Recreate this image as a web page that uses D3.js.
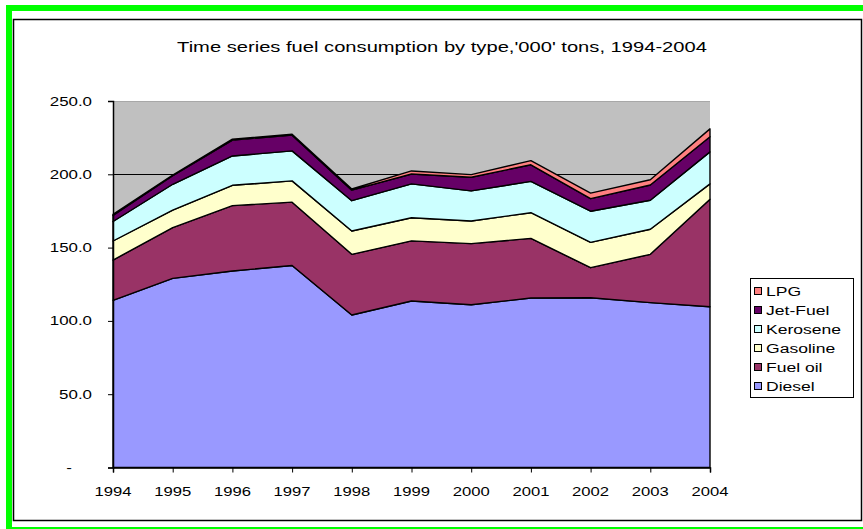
<!DOCTYPE html>
<html>
<head>
<meta charset="utf-8">
<script src="https://cdn.jsdelivr.net/npm/d3@7"></script>
<style>
  html, body { margin: 0; padding: 0; background: #ffffff; }
  svg { display: block; }
  text { font-family: "Liberation Sans", Arial, sans-serif; fill: #000; }
</style>
</head>
<body>
<svg id="chart" width="863" height="529"></svg>
<script>
// ---- data ----
const years = [1994, 1995, 1996, 1997, 1998, 1999, 2000, 2001, 2002, 2003, 2004];
const diesel   = [114, 129, 134, 137.8, 104, 113.6, 111, 115.6, 115.8, 112.5, 109.7];
const fuelOil  = [27.5, 34.6, 44.6, 43.2, 41.4, 41, 41.7, 40.7, 20.5, 32.9, 73.3];
const gasoline = [13, 12, 13.9, 14.5, 15.9, 15.8, 15.4, 17.5, 17.3, 17.1, 10.5];
const kerosene = [13.3, 17.6, 20, 20.5, 20.7, 23.1, 20.6, 21.4, 21.2, 19.8, 21.8];
const jetFuel  = [4.2, 5.8, 10.8, 10.7, 7.2, 6.7, 9.3, 11.3, 8.6, 10.4, 10.3];
const lpg      = [0.7, 0.5, 0.7, 0.6, 0.8, 2.1, 1.8, 2.8, 3.8, 3.6, 5.4];
const seriesNames = ["Diesel", "Fuel oil", "Gasoline", "Kerosene", "Jet-Fuel", "LPG"];
const seriesColors = ["#9999FF", "#993366", "#FFFFCC", "#CCFFFF", "#660066", "#FF8080"];
const yTicks = [0, 50, 100, 150, 200, 250];
const yTickLabels = ["-", "50.0", "100.0", "150.0", "200.0", "250.0"];
const title = "Time series fuel consumption by type,'000' tons, 1994-2004";

// ---- build table for stacking ----
const seriesArrays = [diesel, fuelOil, gasoline, kerosene, jetFuel, lpg];
const table = years.map((y, i) => {
  const row = { year: y };
  seriesNames.forEach((n, k) => row[n] = seriesArrays[k][i]);
  return row;
});
const stacked = d3.stack().keys(seriesNames)(table);

const svg = d3.select("#chart");

function stretchedText(sel, x, y, str, size, anchor, sx) {
  return sel.append("text")
    .attr("transform", `translate(${x},${y}) scale(${sx},1)`)
    .attr("text-anchor", anchor || "start")
    .attr("font-size", size)
    .text(str);
}

// ---- frames ----
svg.append("rect").attr("x", 9).attr("y", 8).attr("width", 857).attr("height", 522)
  .attr("fill", "none").attr("stroke", "#00FF00").attr("stroke-width", 6);
svg.append("rect").attr("x", 13.5).attr("y", 19.5).attr("width", 848).attr("height", 501)
  .attr("fill", "#fff").attr("stroke", "#000").attr("stroke-width", 1.5);

// ---- scales ----
const plot = { left: 113, right: 710, top: 101, bottom: 467.5 };
const x = d3.scalePoint().domain(years).range([plot.left, plot.right]);
const y = d3.scaleLinear().domain([0, 250]).range([plot.bottom, plot.top]);

// plot background
svg.append("rect").attr("x", plot.left).attr("y", plot.top)
  .attr("width", plot.right - plot.left).attr("height", plot.bottom - plot.top)
  .attr("fill", "#C0C0C0");

// gridlines
svg.append("g").selectAll("line").data(yTicks.filter(d => d > 0)).join("line")
  .attr("x1", plot.left).attr("x2", plot.right)
  .attr("y1", d => Math.round(y(d)) + 0.5).attr("y2", d => Math.round(y(d)) + 0.5)
  .attr("stroke", d => d === 250 ? "#a8a8a8" : "#000").attr("stroke-width", 1);

// areas
const area = d3.area()
  .x(d => x(d.data.year))
  .y0(d => y(d[0]))
  .y1(d => y(d[1]));
svg.append("g").selectAll("path").data(stacked).join("path")
  .attr("d", area)
  .attr("fill", (d, i) => seriesColors[i])
  .attr("stroke", "#000")
  .attr("stroke-width", 1.4)
  .attr("stroke-linejoin", "round");

// axes
const yAxis = d3.axisLeft(y).tickValues(yTicks).tickSize(5).tickFormat("");
const gy = svg.append("g").attr("transform", `translate(${plot.left},0)`).call(yAxis);
gy.select(".domain").attr("stroke", "#000").attr("stroke-width", 1.5);
gy.selectAll(".tick line").attr("stroke", "#000");

const xAxis = d3.axisBottom(x).tickSize(5).tickFormat("");
const gx = svg.append("g").attr("transform", `translate(0,${plot.bottom})`).call(xAxis);
gx.select(".domain").attr("stroke", "#000").attr("stroke-width", 1.5);
gx.selectAll(".tick line").attr("stroke", "#000");

// y tick labels
yTicks.forEach((t, i) => {
  const xx = t === 0 ? 72 : 92;
  stretchedText(svg, xx, y(t) + 4.5, yTickLabels[i], 13, "end", 1.3);
});
// x tick labels
years.forEach(yr => {
  stretchedText(svg, x(yr), 496, String(yr), 13, "middle", 1.28);
});

// title
stretchedText(svg, 442, 52, title, 15.5, "middle", 1.3);

// legend
const lg = { x: 750, y: 278, w: 103, h: 119 };
svg.append("rect").attr("x", lg.x + 0.5).attr("y", lg.y + 0.5).attr("width", lg.w).attr("height", lg.h)
  .attr("fill", "#fff").attr("stroke", "#000").attr("stroke-width", 1);
const legendOrder = seriesNames.map((n, i) => i).reverse();
legendOrder.forEach((si, row) => {
  const cy = lg.y + 13 + row * 19;
  svg.append("rect").attr("x", lg.x + 4.5).attr("y", cy - 3.5).attr("width", 7).attr("height", 7)
    .attr("fill", seriesColors[si]).attr("stroke", "#000").attr("stroke-width", 1);
  stretchedText(svg, lg.x + 16, cy + 5, seriesNames[si], 13.5, "start", 1.3);
});
</script>
</body>
</html>
